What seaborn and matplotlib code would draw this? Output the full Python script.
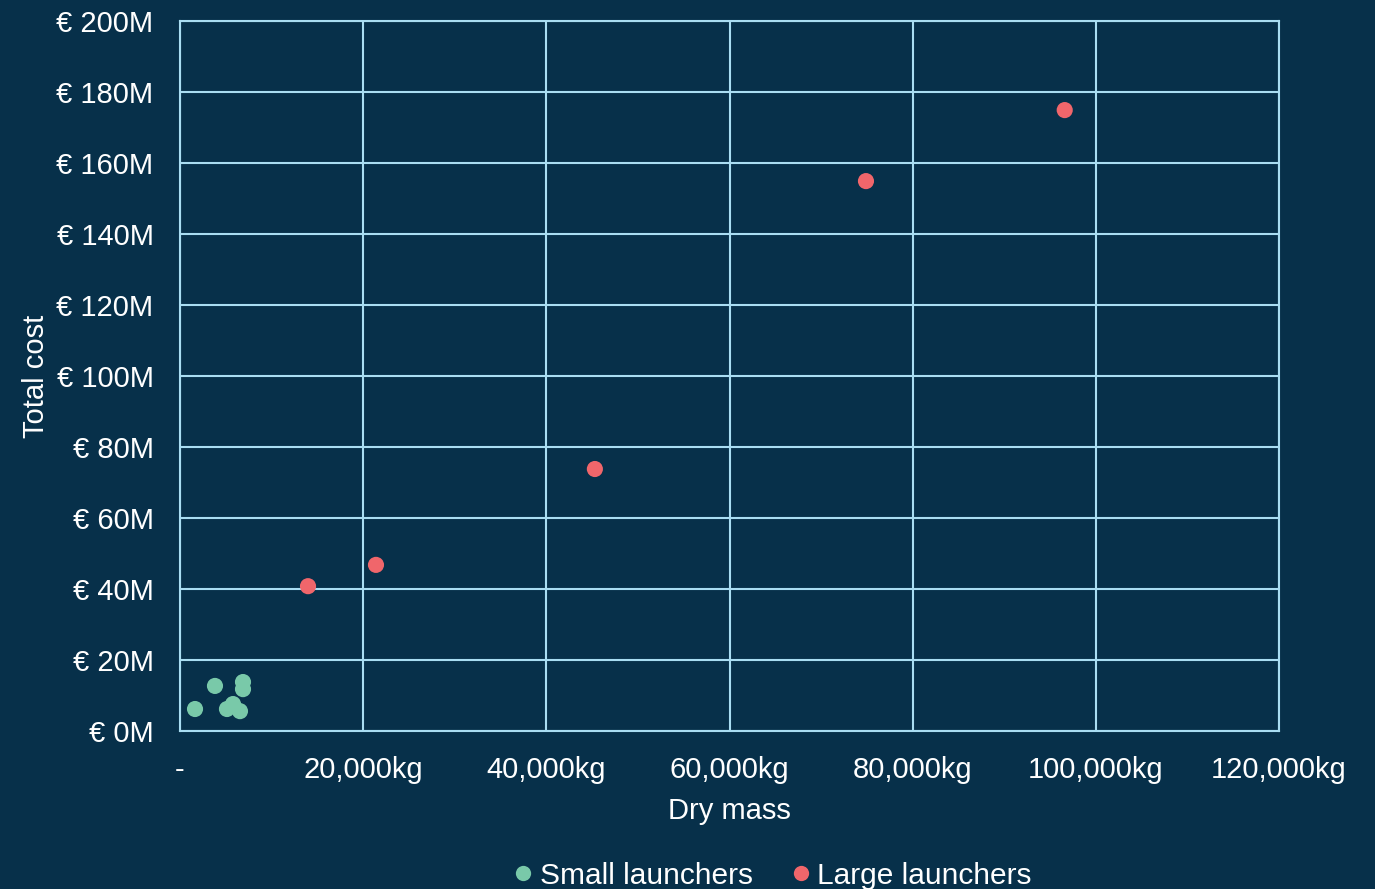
import matplotlib
matplotlib.use("Agg")
import matplotlib.pyplot as plt
from matplotlib.ticker import FuncFormatter, MultipleLocator
from matplotlib.lines import Line2D
import seaborn as sns
import pandas as pd

# Launcher dry mass (kg) and total cost (million EUR)
small_mass = [1640, 3820, 6880, 6880, 5130, 5790, 6550]
small_cost = [6.2, 12.7, 13.8, 11.8, 6.2, 7.6, 5.6]
large_mass = [13980, 21400, 45300, 74900, 96600]
large_cost = [40.8, 46.8, 73.8, 154.9, 174.9]
groups = ["Small launchers", "Large launchers"]
group_colors = ["#79C9A9", "#F0666B"]

BG = "#07304A"
GRID = "#A9DDF2"
TEXT = "#FFFFFF"

df = pd.DataFrame({
    "mass": small_mass + large_mass,
    "cost": small_cost + large_cost,
    "group": [groups[0]] * len(small_mass) + [groups[1]] * len(large_mass),
})

sns.set_theme(style="white")
plt.rcParams["font.family"] = ["Liberation Sans", "DejaVu Sans"]

fig = plt.figure(figsize=(13.75, 8.89), dpi=100, facecolor=BG)
ax = fig.add_axes([0.1309, 0.1777, 0.7993, 0.7987])
ax.set_facecolor(BG)

sns.scatterplot(data=df, x="mass", y="cost", hue="group", hue_order=groups,
                palette=group_colors, s=135, edgecolor="none", legend=False,
                ax=ax, zorder=3)

ax.set_xlim(0, 120000)
ax.set_ylim(0, 200)
ax.xaxis.set_major_locator(MultipleLocator(20000))
ax.yaxis.set_major_locator(MultipleLocator(20))
ax.xaxis.set_major_formatter(FuncFormatter(lambda v, p: "-" if v == 0 else f"{v:,.0f}kg"))
ax.yaxis.set_major_formatter(FuncFormatter(lambda v, p: f"€ {v:.0f}M"))

ax.grid(True, color=GRID, linewidth=1.5)
ax.set_axisbelow(True)
for sp in ax.spines.values():
    sp.set_color(GRID)
    sp.set_linewidth(1.5)

ax.tick_params(axis="both", length=0, labelsize=21, colors=TEXT)
ax.tick_params(axis="x", pad=18)
ax.tick_params(axis="y", pad=19)

ax.set_xlabel("Dry mass", fontsize=21, color=TEXT, labelpad=9)
ax.set_ylabel("Total cost", fontsize=21, color=TEXT, labelpad=5)

handles = [Line2D([0], [0], marker="o", linestyle="", markersize=11,
                  markerfacecolor=c, markeredgecolor="none") for c in group_colors]
leg = fig.legend(handles, groups, loc="lower center", bbox_to_anchor=(0.560, -0.031),
                 ncol=2, frameon=False, fontsize=21.5, handletextpad=0.05,
                 columnspacing=1.1, handlelength=1.0)
for t in leg.get_texts():
    t.set_color(TEXT)

fig.savefig("out.png", dpi=100, facecolor=BG)
